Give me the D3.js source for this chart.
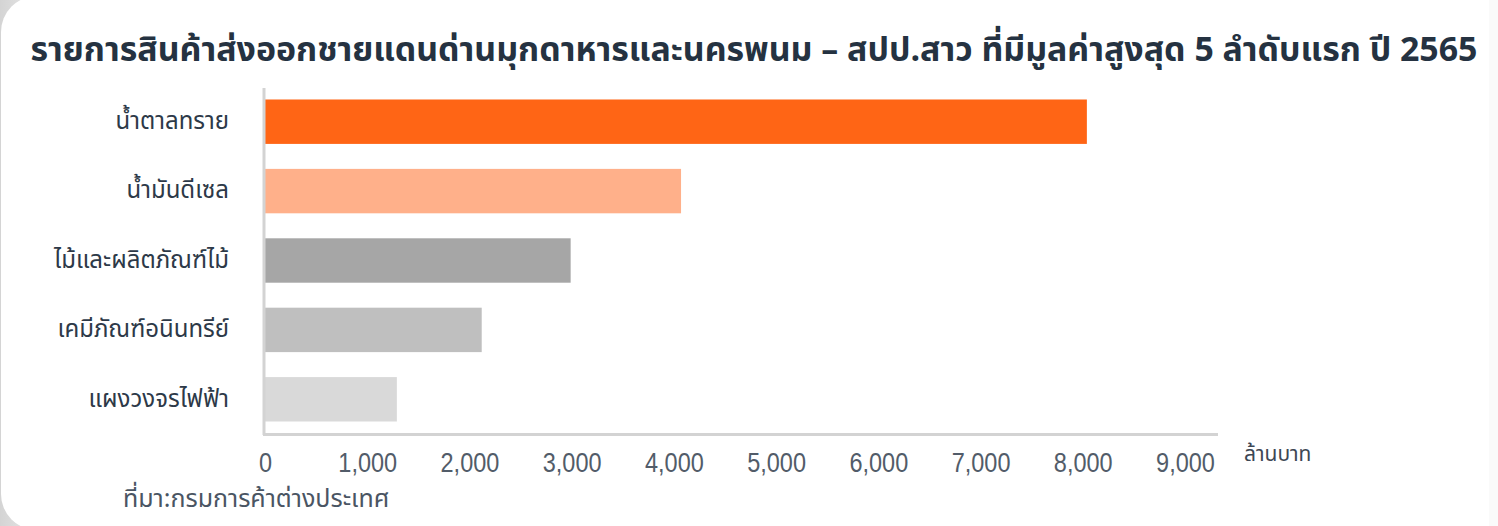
<!DOCTYPE html>
<html><head><meta charset="utf-8">
<script src="https://cdn.jsdelivr.net/npm/d3@7"></script>
<style>
html,body{margin:0;padding:0;background:#fff;}
svg{display:block;}
</style></head>
<body>
<svg id="chart" width="1498" height="526"></svg>
<script>
const categories = ["น้ำตาลทราย","น้ำมันดีเซล","ไม้และผลิตภัณฑ์ไม้","เคมีภัณฑ์อนินทรีย์","แผงวงจรไฟฟ้า"];
const values = [8040, 4070, 2990, 2120, 1290];
const barColors = ["#ff6515","#ffb08a","#a6a6a6","#bfbfbf","#d9d9d9"];
const tickValues = [0,1000,2000,3000,4000,5000,6000,7000,8000,9000];
const titleText = "รายการสินค้าส่งออกชายแดนด่านมุกดาหารและนครพนม – สปป.สาว ที่มีมูลค่าสูงสุด 5 ลำดับแรก ปี 2565";
const unitText = "ล้านบาท";
const sourceText = "ที่มา:กรมการค้าต่างประเทศ";

const svg = d3.select("#chart");
const thai = "'Noto Sans Thai','Noto Sans Thai UI','Noto Sans',sans-serif";

// background / card
const defs = svg.append("defs");
const g1 = defs.append("linearGradient").attr("id","bg").attr("x1","0").attr("x2","1").attr("y1","0").attr("y2","0");
g1.append("stop").attr("offset","0").attr("stop-color","#d4d4d4");
g1.append("stop").attr("offset","0.03").attr("stop-color","#ececec");
g1.append("stop").attr("offset","1").attr("stop-color","#f6f6f6");
svg.append("rect").attr("width",1498).attr("height",526).attr("fill","url(#bg)");
svg.append("rect").attr("x",1).attr("y",-4).attr("width",1560).attr("height",534).attr("rx",36).attr("fill","#ffffff");
svg.append("rect").attr("x",1489).attr("y",0).attr("width",9).attr("height",526).attr("fill","#fafafa");

const x = d3.scaleLinear().domain([0,9000]).range([265,1185]);
const y = d3.scaleBand().domain(categories).range([87,434]).paddingInner(0.36).paddingOuter(0.18);

function fit(sel, target){
  const w = sel.node().getComputedTextLength();
  const fs = parseFloat(sel.attr("font-size"));
  sel.attr("font-size", fs*target/w);
}

// title
const title = svg.append("text").attr("x",754).attr("y",61).attr("text-anchor","middle")
  .attr("font-family",thai).attr("font-weight","bold").attr("font-size",30).attr("fill","#253241")
  .text(titleText);
fit(title,1448);

// bars
svg.append("g").selectAll("rect").data(categories).join("rect")
  .attr("x",x(0)).attr("y",d=>y(d)).attr("height",y.bandwidth())
  .attr("width",(d,i)=>x(values[i])-x(0)).attr("fill",(d,i)=>barColors[i]);

// axes lines
svg.append("line").attr("x1",x(0)-1).attr("x2",x(0)-1).attr("y1",88).attr("y2",435)
  .attr("stroke","#d3d3d3").attr("stroke-width",3);
svg.append("line").attr("x1",x(0)-2).attr("x2",x(9000)+33).attr("y1",434.5).attr("y2",434.5)
  .attr("stroke","#d3d3d3").attr("stroke-width",3);

// category labels
const yAxis = svg.append("g").attr("transform",`translate(229,0)`)
  .call(d3.axisLeft(y).tickSize(0).tickPadding(0));
yAxis.select(".domain").remove();
yAxis.selectAll("text").attr("font-family",thai).attr("font-size",24).attr("fill","#2d3948").attr("dy","0.3em");

// x tick labels
const xAxis = svg.append("g").attr("transform","translate(0,446)")
  .call(d3.axisBottom(x).tickValues(tickValues).tickSize(0).tickPadding(0).tickFormat(d3.format(",")));
xAxis.select(".domain").remove();
xAxis.selectAll("text").attr("font-family","'Liberation Sans',Arial,sans-serif")
  .attr("font-size",28).attr("fill","#525c69").attr("dy","0.92em")
  .attr("transform","scale(0.84,1)");

svg.append("text").attr("x",1244).attr("y",461).attr("font-family",thai).attr("font-size",21)
  .attr("fill","#3d4754").text(unitText);

svg.append("text").attr("x",123).attr("y",507).attr("font-family",thai).attr("font-size",25)
  .attr("fill","#4a5563").text(sourceText);
</script>
</body></html>
